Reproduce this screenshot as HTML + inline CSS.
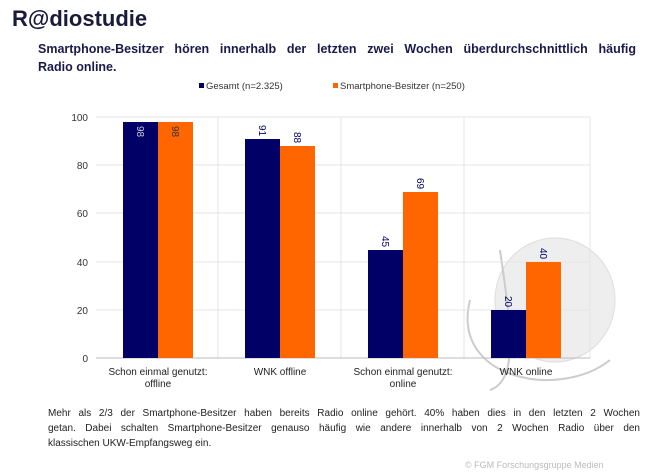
<!DOCTYPE html><html><head><style>
body{margin:0;width:671px;height:475px;background:#fff;font-family:"Liberation Sans",sans-serif;position:relative;overflow:hidden}
.a{position:absolute;white-space:nowrap}
.j{text-align:justify;text-align-last:justify;display:block}
</style></head><body>
<div class="a" style="left:12px;top:6px;font-size:22px;font-weight:bold;color:#1a1a3a">R@diostudie</div>
<div class="a" style="left:38px;top:40px;width:598px;font-size:12.5px;font-weight:bold;color:#1a1a4a;white-space:normal;line-height:18px"><span class="j">Smartphone-Besitzer hören innerhalb der letzten zwei Wochen überdurchschnittlich häufig</span>Radio online.</div>
<svg class="a" style="left:0;top:0" width="671" height="475">
<ellipse cx="555" cy="300" rx="60" ry="62" fill="#eeeeee" stroke="#ddd"/>
<path d="M470 300 C450 380 560 400 610 360 M500 250 C510 320 520 380 490 390" stroke="#ccc" stroke-width="2" fill="none"/>
<g stroke="#e4e4e4" stroke-width="1">
<line x1="96" y1="117" x2="590" y2="117"/><line x1="96" y1="165" x2="590" y2="165"/><line x1="96" y1="213" x2="590" y2="213"/><line x1="96" y1="262" x2="590" y2="262"/><line x1="96" y1="310" x2="590" y2="310"/>
<line x1="218" y1="117" x2="218" y2="358"/><line x1="341" y1="117" x2="341" y2="358"/><line x1="464" y1="117" x2="464" y2="358"/><line x1="590" y1="117" x2="590" y2="358"/>
</g>
<line x1="96" y1="358" x2="590" y2="358" stroke="#bbb"/>
<g fill="#000066">
<rect x="123" y="122" width="35" height="236"/><rect x="245" y="139" width="35" height="219"/><rect x="368" y="250" width="35" height="108"/><rect x="491" y="310" width="35" height="48"/></g>
<g fill="#ff6600">
<rect x="158" y="122" width="35" height="236"/><rect x="280" y="146" width="35" height="212"/><rect x="403" y="192" width="35" height="166"/><rect x="526" y="262" width="35" height="96"/></g>
<g font-size="10" fill="#333" text-anchor="end">
<text x="88" y="121">100</text><text x="88" y="169">80</text><text x="88" y="217">60</text><text x="88" y="266">40</text><text x="88" y="314">20</text><text x="88" y="362">0</text></g>
<g font-size="10">
<text transform="translate(137,126) rotate(90)" fill="#ccd">98</text>
<text transform="translate(172,126) rotate(90)" fill="#333">98</text>
<text transform="translate(259,125) rotate(90)" fill="#000066">91</text>
<text transform="translate(294,132) rotate(90)" fill="#000066">88</text>
<text transform="translate(382,236) rotate(90)" fill="#000066">45</text>
<text transform="translate(417,178) rotate(90)" fill="#000066">69</text>
<text transform="translate(505,296) rotate(90)" fill="#000066">20</text>
<text transform="translate(540,248) rotate(90)" fill="#000066">40</text>
</g>
<g font-size="10" fill="#222" text-anchor="middle">
<text x="158" y="375">Schon einmal genutzt:</text><text x="158" y="387">offline</text>
<text x="280" y="375">WNK offline</text>
<text x="403" y="375">Schon einmal genutzt:</text><text x="403" y="387">online</text>
<text x="526" y="375">WNK online</text></g>
<rect x="199" y="83" width="5" height="5" fill="#000066"/><text x="206" y="89" font-size="9.5" fill="#333">Gesamt (n=2.325)</text>
<rect x="333" y="83" width="5" height="5" fill="#ff6600"/><text x="340" y="89" font-size="9.5" fill="#333">Smartphone-Besitzer (n=250)</text>
<text x="465" y="468" font-size="9" fill="#bbb">© FGM Forschungsgruppe Medien</text>
</svg>
<div class="a" style="left:48px;top:406px;width:592px;font-size:10px;color:#222;white-space:normal;line-height:15px"><span class="j">Mehr als 2/3 der Smartphone-Besitzer haben bereits Radio online gehört. 40% haben dies in den letzten 2 Wochen</span><span class="j">getan. Dabei schalten Smartphone-Besitzer genauso häufig wie andere innerhalb von 2 Wochen Radio über den</span>klassischen UKW-Empfangsweg ein.</div>
</body></html>
